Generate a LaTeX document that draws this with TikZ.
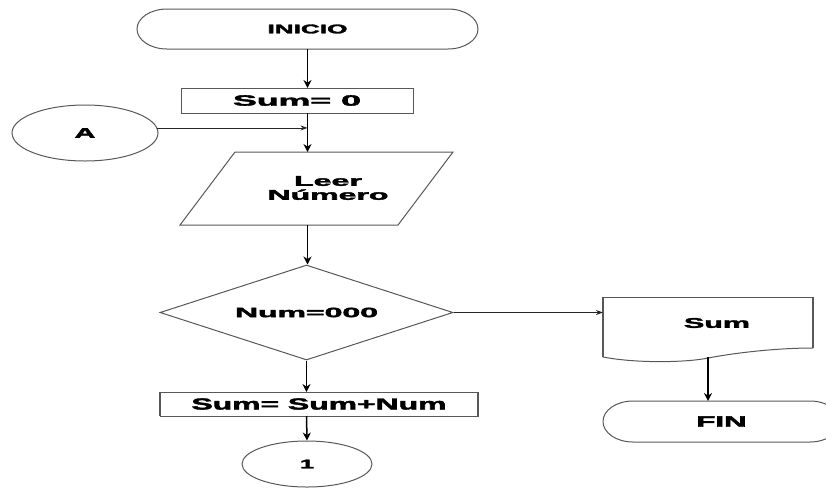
\documentclass[tikz,border=0pt]{standalone}
\usepackage{fontspec}
\setmainfont{Liberation Sans}[BoldFeatures={FakeBold=2.2}]
\usepackage{graphicx}
\usetikzlibrary{shapes.geometric,arrows.meta}
\newcommand{\wt}[3]{\resizebox{#2pt}{\height}{\fontsize{#1}{#1}\selectfont\bfseries #3}}
\definecolor{edge}{HTML}{585858}
\begin{document}
\begin{tikzpicture}[x=1pt,y=-1pt,
  shp/.style={draw=edge, line width=1pt},
  ghost/.style={inner sep=0pt, outer sep=0pt},
  arr/.style={draw=black, line width=1.5pt, -{Stealth[length=8pt,width=8pt]}},
  thinarr/.style={draw=black!85, line width=0.8pt, -{Stealth[length=7pt,width=5pt]}},
  side/.style={draw=edge, line width=1.8pt}
]
\useasboundingbox[fill=white] (0,0) rectangle (826,488);

% INICIO
\node[ghost, minimum width=341pt, minimum height=40pt] (ini) at (307.5,29) {\wt{12.6}{80}{INICIO}};
\draw[shp] ([xshift=30pt]ini.north west) -- ([xshift=-30pt]ini.north east)
  arc[start angle=-90, end angle=90, x radius=30, y radius=20]
  -- ([xshift=30pt]ini.south west)
  arc[start angle=90, end angle=270, x radius=30, y radius=20] -- cycle;

% Sum= 0
\node[shp, ghost, minimum width=232pt, minimum height=25pt] (s0) at (297,100.5) {\wt{15}{128}{Sum= 0}};

% A
\node[shp, ellipse, inner sep=0pt, minimum width=146pt, minimum height=56pt] (A) at (85,133) {\wt{14}{21}{A}};

% Leer Numero
\node[ghost, minimum width=273pt, minimum height=73pt] (leer) at (316.5,188.5) {};
\draw[shp] ([xshift=55pt]leer.north west) -- (leer.north east) -- ([xshift=-55pt]leer.south east) -- (leer.south west) -- cycle;
\node[ghost, align=center, font=\fontsize{14}{14}\selectfont] (leert) at (328,188) {\wt{14}{68}{Leer}\\\wt{14}{121}{Número}};

% decision
\node[shp, diamond, aspect=3.08, inner sep=0pt, minimum width=293pt, minimum height=95pt] (dia) at (306.5,312.5) {\wt{13.5}{143}{Num=000}};

% Sum= Sum+Num
\node[shp, ghost, minimum width=318pt, minimum height=24pt] (ss) at (319,404) {\wt{16}{255}{Sum= Sum+Num}};
\draw[side] (ss.north west) -- (ss.south west);
\draw[side] (ss.north east) -- (ss.south east);

% connector 1
\node[shp, ellipse, inner sep=0pt, minimum width=130pt, minimum height=46pt] (one) at (307,464) {\wt{12.5}{14}{1}};

% document Sum
\node[ghost, minimum width=210pt, minimum height=60pt] (doc) at (708,327) {};
\node[ghost] (doct) at (717,323) {\wt{14}{66}{Sum}};
\draw[shp] ([yshift=9pt]doc.south east) .. controls (780,348) and (740,352) .. (708,358)
  .. controls (690,362) and (640,364) .. (doc.south west);
\draw[shp] (doc.north west) -- (doc.north east);
\draw[side] (doc.south west) -- (doc.north west);
\draw[side] (doc.north east) -- ([yshift=9pt]doc.south east);

% FIN
\node[ghost, minimum width=237pt, minimum height=41pt] (fin) at (721.5,421.5) {\wt{15}{50}{FIN}};
\draw[shp] ([xshift=30pt]fin.north west) -- ([xshift=-30pt]fin.north east)
  arc[start angle=-90, end angle=90, x radius=30, y radius=20.5]
  -- ([xshift=30pt]fin.south west)
  arc[start angle=90, end angle=270, x radius=30, y radius=20.5] -- cycle;

% connectors
\draw[arr] (ini.south) -- (ini.south |- s0.north);
\draw[arr] (ini.south |- s0.south) -- (ini.south |- leer.north);
\draw[thinarr] (A.4) -- (A.4 -| ini.south);
\draw[arr] (ini.south |- leer.south) -- (ini.south |- dia.north);
\draw[thinarr] (dia.east) -- (dia.east -| doc.west);
\draw[arr] (dia.south) -- (dia.south |- ss.north);
\draw[arr] (dia.south |- ss.south) -- (one.north);
\draw[arr] (doc.south) -- (doc.south |- fin.north);
\end{tikzpicture}
\end{document}
